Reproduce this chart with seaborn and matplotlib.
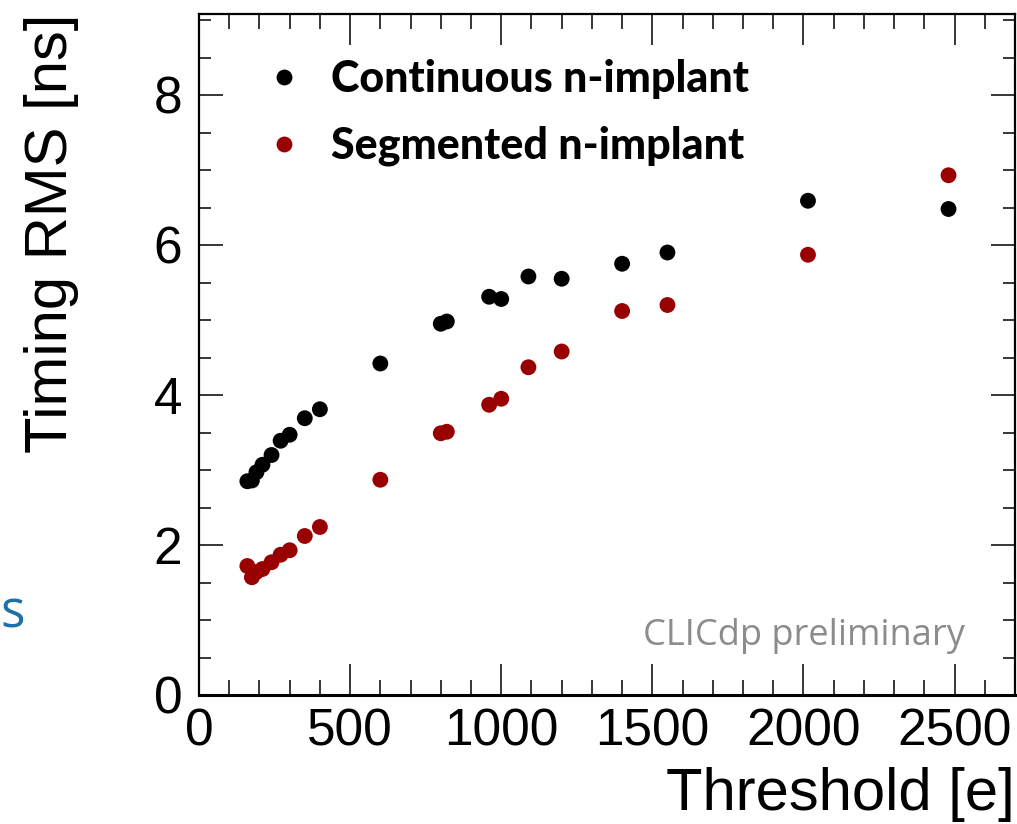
import matplotlib
matplotlib.use("Agg")
import matplotlib.pyplot as plt
from matplotlib.ticker import MultipleLocator
from matplotlib.font_manager import FontProperties
import pandas as pd
import seaborn as sns

# Threshold scan: timing RMS for two sensor designs
thresholds = [160, 175, 190, 210, 240, 270, 300, 350, 400, 600,
              800, 820, 960, 1000, 1090, 1200, 1400, 1550, 2015, 2480]
rms_continuous = [2.85, 2.86, 2.97, 3.07, 3.20, 3.39, 3.47, 3.69, 3.81, 4.42,
                  4.95, 4.98, 5.31, 5.28, 5.58, 5.55, 5.75, 5.90, 6.59, 6.48]
rms_segmented = [1.72, 1.57, 1.64, 1.68, 1.77, 1.87, 1.93, 2.12, 2.24, 2.87,
                 3.49, 3.51, 3.87, 3.95, 4.37, 4.58, 5.12, 5.20, 5.87, 6.93]
series_names = ["Continuous n-implant", "Segmented n-implant"]
series_colors = ["#000000", "#990000"]

df = pd.concat([
    pd.DataFrame({"Threshold": thresholds, "RMS": rms_continuous,
                  "Sensor": series_names[0]}),
    pd.DataFrame({"Threshold": thresholds, "RMS": rms_segmented,
                  "Sensor": series_names[1]}),
], ignore_index=True)

sns.set_theme(style="ticks")
plt.rcParams["font.family"] = ["Liberation Sans", "DejaVu Sans"]
plt.rcParams["text.color"] = "black"
plt.rcParams["xtick.labelcolor"] = "black"
plt.rcParams["ytick.labelcolor"] = "black"

W, H = 1017, 824
fig = plt.figure(figsize=(W / 100, H / 100), dpi=100)
ax = fig.add_axes([199 / W, 1 - 695 / H, (1015 - 199) / W, (695 - 14) / H])

sns.scatterplot(data=df, x="Threshold", y="RMS", hue="Sensor",
                palette=dict(zip(series_names, series_colors)),
                s=130, linewidth=0, ax=ax, legend=True, zorder=3)

ax.set_xlim(0, 2700)
ax.set_ylim(0, 9.08)
ax.xaxis.set_major_locator(MultipleLocator(500))
ax.xaxis.set_minor_locator(MultipleLocator(100))
ax.yaxis.set_major_locator(MultipleLocator(2))
ax.yaxis.set_minor_locator(MultipleLocator(0.5))

ax.tick_params(axis="both", which="both", direction="in",
               top=True, right=True, width=1.1, color="black",
               labelcolor="black")
ax.tick_params(axis="x", which="major", length=22, pad=9, labelsize=37)
ax.tick_params(axis="x", which="minor", length=11)
ax.tick_params(axis="y", which="major", length=17, pad=12, labelsize=37)
ax.tick_params(axis="y", which="minor", length=8.5)
for side in ["left", "right", "top", "bottom"]:
    ax.spines[side].set_linewidth(1.6)
    ax.spines[side].set_color("black")
ax.spines["bottom"].set_linewidth(2.2)

ax.set_xlabel("")
ax.set_ylabel("")
fig.text(1015 / W, 1 - 794 / H, "Threshold [e]", ha="right", va="center",
         fontsize=43, color="black")
fig.text(52 / W, 1 - 14 / H, "Timing RMS [ns]", ha="center", va="top",
         rotation=90, fontsize=43, color="black")

ax.text(965 / W, 1 - 645 / H, "CLICdp preliminary", transform=fig.transFigure,
        ha="right", va="baseline", fontsize=26, color="#8c8c8c",
        family="Open Sans")

fig.text(0.5 / W, 1 - 627 / H, "s", ha="left", va="baseline",
         fontsize=37, color="#1f6fa8", family="Open Sans")

leg_font = FontProperties(family="Lato", weight="black", size=31)
leg = ax.legend(title=None, frameon=False, prop=leg_font,
                loc="upper left", bbox_to_anchor=(262 / W, 1 - 59 / H),
                bbox_transform=fig.transFigure, borderaxespad=0, borderpad=0,
                handletextpad=0.6, labelspacing=0.62, markerscale=1.0,
                handlelength=1.0)
for t in leg.get_texts():
    t.set_color("black")

fig.savefig("out.png", dpi=100)
